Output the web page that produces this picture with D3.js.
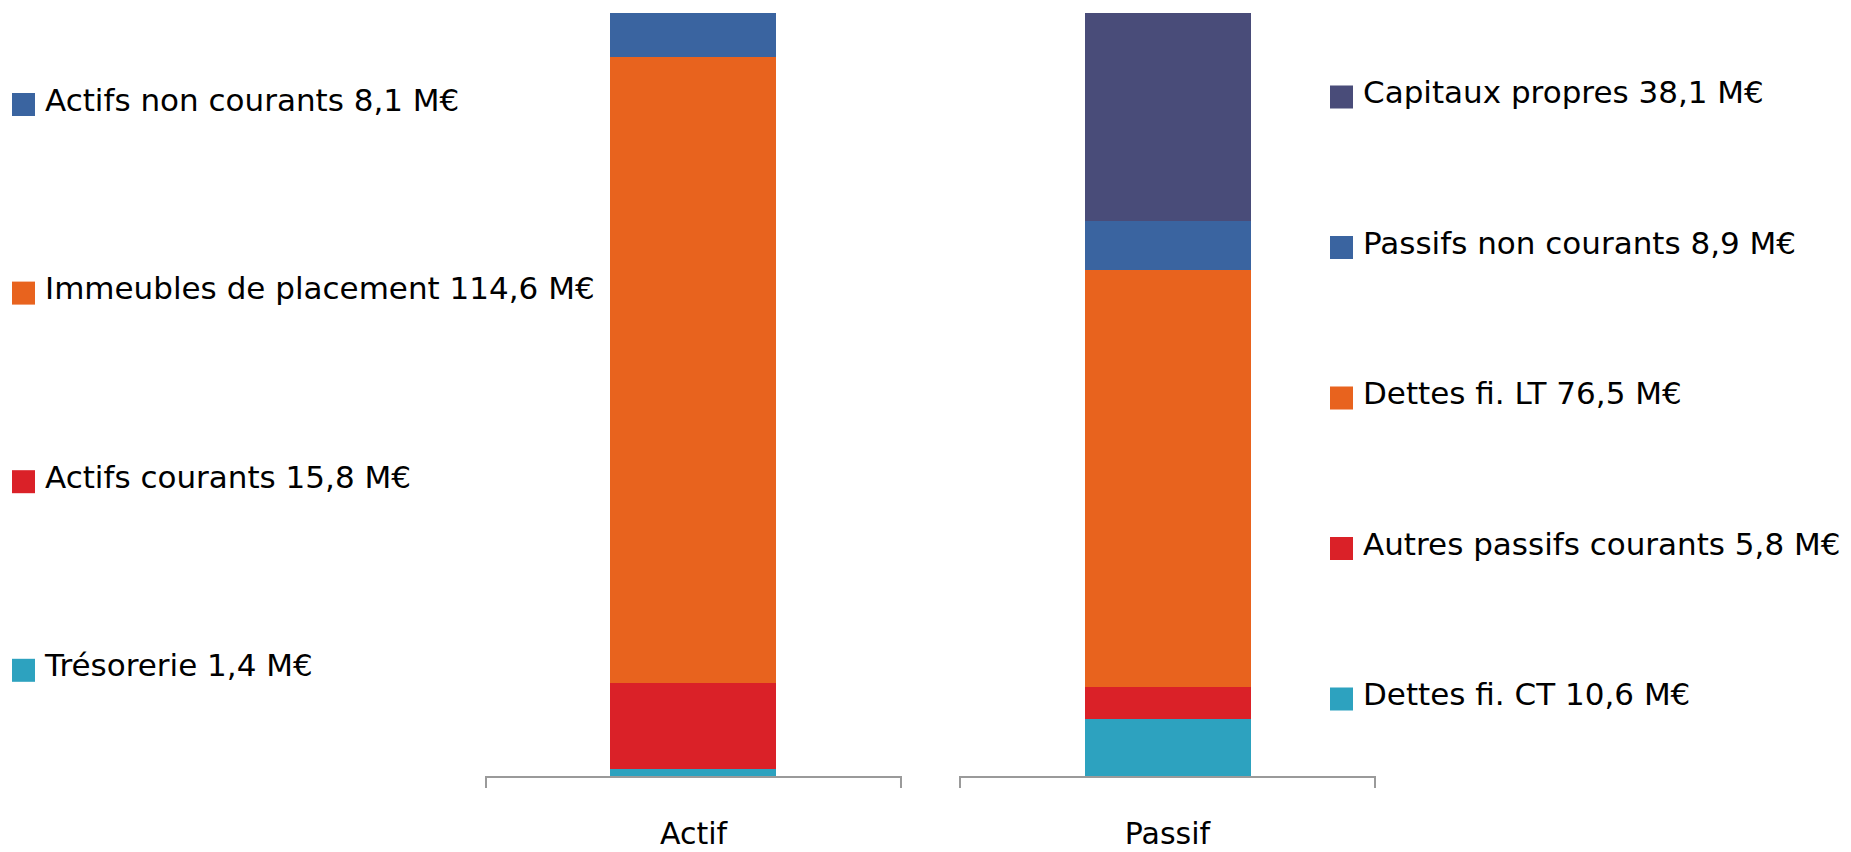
<!DOCTYPE html>
<html>
<head>
<meta charset="utf-8">
<script src="https://cdn.jsdelivr.net/npm/d3@7"></script>
<style>
  html, body { margin: 0; padding: 0; background: #fff; }
  svg { display: block; }
  text { font-family: "DejaVu Sans", sans-serif; fill: #000; }
</style>
</head>
<body>
<svg id="chart" width="1851" height="852"></svg>
<script>
// ---- data (top to bottom of each stacked bar) ----
const categories = ["Actif", "Passif"];
const actifLabels = ["Actifs non courants", "Immeubles de placement", "Actifs courants", "Trésorerie"];
const actifValues = [8.1, 114.6, 15.8, 1.4];
const actifColors = ["#3A64A0", "#E8631E", "#DA2128", "#2DA2BF"];
const passifLabels = ["Capitaux propres", "Passifs non courants", "Dettes fi. LT", "Autres passifs courants", "Dettes fi. CT"];
const passifValues = [38.1, 8.9, 76.5, 5.8, 10.6];
const passifColors = ["#494C79", "#3A64A0", "#E8631E", "#DA2128", "#2DA2BF"];
const yMax = 140;

const svg = d3.select("#chart");
const fr = d3.formatLocale({decimal: ",", thousands: " ", grouping: [3], currency: ["", " €"]});
const fmt = fr.format(".1f");

const baseY = 777;
const y = d3.scaleLinear().domain([0, yMax]).range([baseY, baseY - yMax * 764 / 139.9]);
const x = d3.scaleBand().domain(categories).range([486, 1375]).paddingInner(0.1245).paddingOuter(0);
const barFrac = 0.4;

const groups = [
  {cat: "Actif", labels: actifLabels, values: actifValues, colors: actifColors},
  {cat: "Passif", labels: passifLabels, values: passifValues, colors: passifColors}
];

groups.forEach(g => {
  const row = {};
  g.labels.forEach((l, i) => row[l] = g.values[i]);
  const keys = g.labels.slice().reverse();
  const stacked = d3.stack().keys(keys)([row]);
  const bw = x.bandwidth() * barFrac;
  const bx = x(g.cat) + (x.bandwidth() - bw) / 2;
  svg.append("g").attr("shape-rendering", "crispEdges")
    .selectAll("rect").data(stacked).join("rect")
    .attr("x", bx)
    .attr("width", bw)
    .attr("y", d => y(d[0][1]))
    .attr("height", d => y(d[0][0]) - y(d[0][1]))
    .attr("fill", d => g.colors[g.labels.indexOf(d.key)]);

  // axis segment with end ticks
  const x0 = x(g.cat), x1 = x(g.cat) + x.bandwidth();
  svg.append("path")
    .attr("d", `M${x0},${baseY + 11}V${baseY}H${x1}V${baseY + 11}`)
    .attr("fill", "none")
    .attr("stroke", "#9a9a9a")
    .attr("stroke-width", 2);
  svg.append("text")
    .attr("x", x0 + x.bandwidth() / 2)
    .attr("y", 844)
    .attr("text-anchor", "middle")
    .style("font-size", "30px")
    .text(g.cat);
});

// legends
function legend(labels, values, colors, sx, tx, top0, step) {
  const lg = svg.append("g");
  labels.forEach((l, i) => {
    const t = top0 + i * step;
    lg.append("rect").attr("x", sx).attr("y", t).attr("width", 23).attr("height", 23).attr("fill", colors[i]);
    lg.append("text").attr("x", tx).attr("y", t + 17.5)
      .style("font-size", "31px")
      .text(`${l} ${fmt(values[i])} M€`);
  });
}
legend(actifLabels, actifValues, actifColors, 12, 45, 93, 188.6);
legend(passifLabels, passifValues, passifColors, 1330, 1363, 85.5, 150.5);
</script>
</body>
</html>
